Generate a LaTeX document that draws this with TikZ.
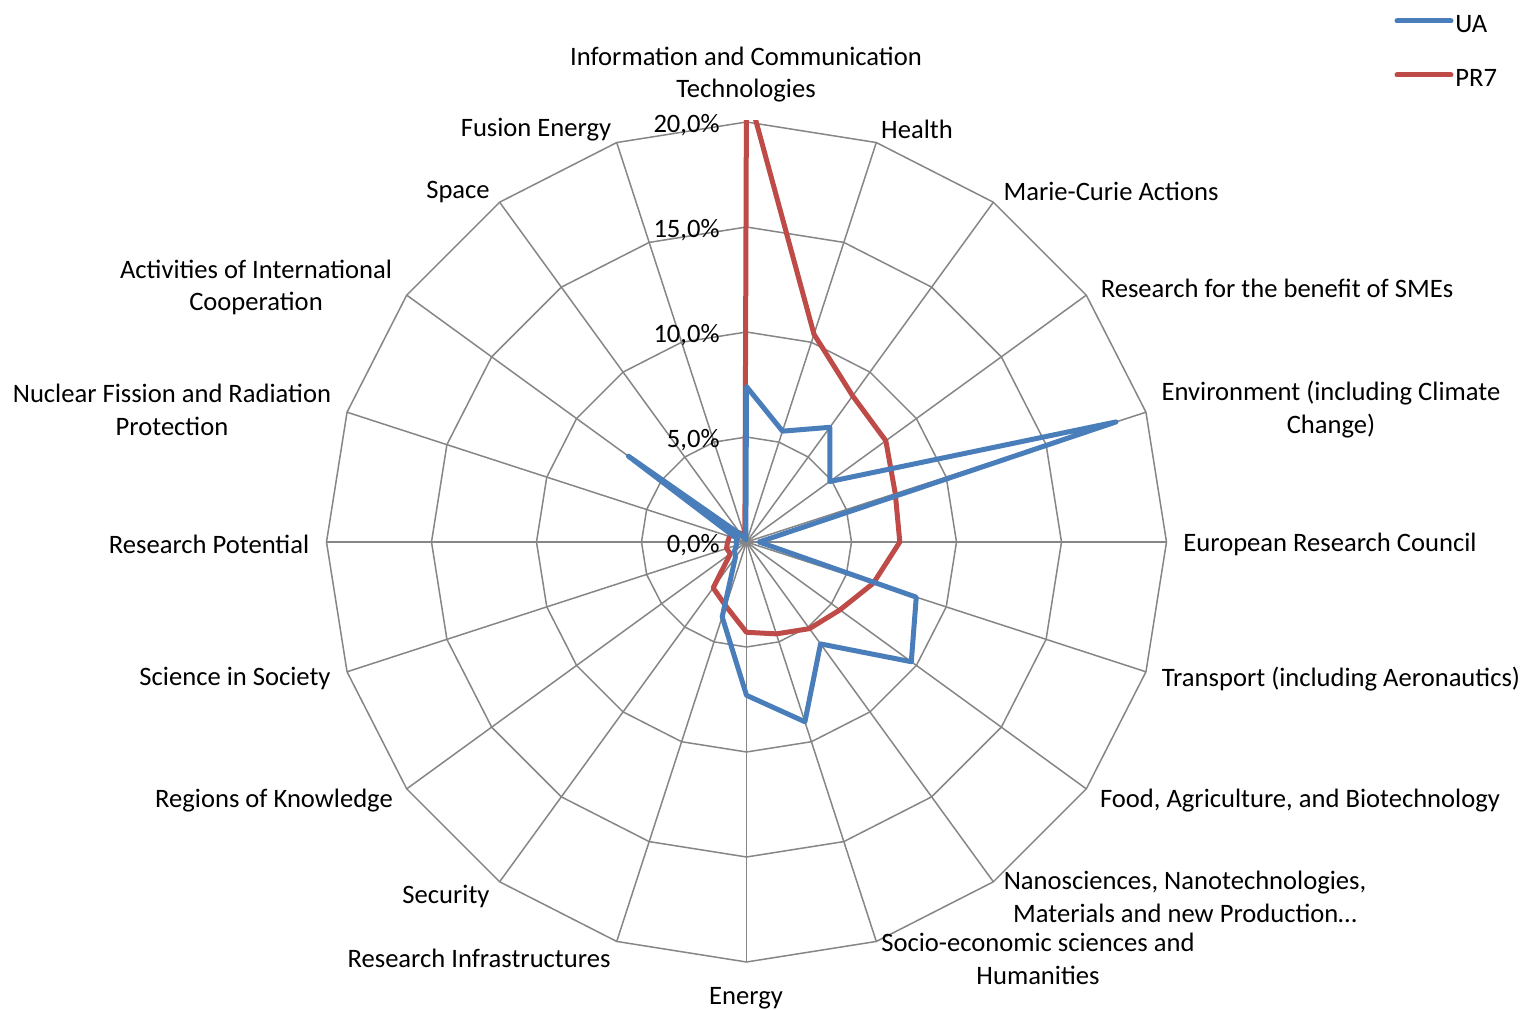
\documentclass[tikz,border=0pt]{standalone}
\usepackage{fontspec}
\setmainfont{Carlito}
\definecolor{gridgray}{HTML}{868686}
\definecolor{uablue}{HTML}{4A7EBB}
\definecolor{prred}{HTML}{BE4B48}
\begin{document}
\begin{tikzpicture}[x=0.5pt,y=-0.5pt,
  lbl/.style={font=\fontsize{13.3}{16.3}\selectfont, inner sep=0pt, align=center, yshift=-1.3pt},
  tick/.style={font=\fontsize{13.3}{16.3}\selectfont, inner sep=0pt, anchor=east, yshift=-1.1pt},
  gridline/.style={draw=gridgray, line width=0.75pt},
  ualine/.style={draw=uablue, line width=2.5pt, line join=round, line cap=round},
  prline/.style={draw=prred, line width=2.5pt, line join=round, line cap=round}]
\path[use as bounding box, fill=white] (0,0) rectangle (1528,1010);
\def\cx{746.5}\def\cy{542}
% grid rings
\foreach \r in {105,210,315,420}{
  \draw[gridline] ({\cx},{\cy-\r}) \foreach \k in {1,...,19}{ -- ({\cx+\r*sin(18*\k)},{\cy-\r*cos(18*\k)}) } -- cycle;
}
% spokes
\foreach \k in {0,...,19}{
  \draw[gridline] (\cx,\cy) -- ({\cx+420*sin(18*\k)},{\cy-420*cos(18*\k)});
}
% tick labels
\node[tick] (t0) at (720,543) {0,0\%};
\node[tick] (t5) at (720,438) {5,0\%};
\node[tick] (t10) at (720,333) {10,0\%};
\node[tick] (t15) at (720,228) {15,0\%};
\node[tick] (t20) at (720,123) {20,0\%};
% data points
\foreach \v [count=\i from 0] in {21.7,10.4,8.6,8.2,7.45,7.3,6.35,5.5,5.1,4.6,4.3,3.2,2.7,0.95,1.0,0.9,0.85,0.7,0.55,0.25}{
  \coordinate (pr\i) at ({\cx+21*\v*sin(18*\i)},{\cy-21*\v*cos(18*\i)});
}
\foreach \v [count=\i from 0] in {7.4,5.55,6.75,4.9,18.5,0.6,8.5,9.7,6.0,9.0,7.3,3.75,0.9,0.7,0.5,0.5,0.45,6.95,0.4,0.1}{
  \coordinate (ua\i) at ({\cx+21*\v*sin(18*\i)},{\cy-21*\v*cos(18*\i)});
}
\begin{scope}
  \clip (0,121) rectangle (1528,1010);
  \draw[prline] (pr0) \foreach \i in {1,...,19}{ -- (pr\i) } -- cycle;
  \draw[ualine] (ua0) \foreach \i in {1,...,19}{ -- (ua\i) } -- cycle;
\end{scope}
% category labels
\node[lbl] (l0) at (746,72) {Information and Communication\\Technologies};
\node[lbl] (l1) at (917,127) {Health};
\node[lbl] (l2) at (1111,189) {Marie-Curie Actions};
\node[lbl] (l3) at (1277,286) {Research for the benefit of SMEs};
\node[lbl] (l4) at (1331,407) {Environment (including Climate\\Change)};
\node[lbl] (l5) at (1330,542) {European Research Council};
\node[lbl] (l6) at (1341,676) {Transport (including Aeronautics)};
\node[lbl] (l7) at (1300,798) {Food, Agriculture, and Biotechnology};
\node[lbl] (l8) at (1185,894) {Nanosciences, Nanotechnologies,\\Materials and new Production…};
\node[lbl] (l9) at (1038,956) {Socio-economic sciences and\\Humanities};
\node[lbl] (l10) at (746,996) {Energy};
\node[lbl] (l11) at (479,956) {Research Infrastructures};
\node[lbl] (l12) at (446,894) {Security};
\node[lbl] (l13) at (274,798) {Regions of Knowledge};
\node[lbl] (l14) at (235,676) {Science in Society};
\node[lbl] (l15) at (209,542) {Research Potential};
\node[lbl] (l16) at (172,407) {Nuclear Fission and Radiation\\Protection};
\node[lbl] (l17) at (256,285) {Activities of International\\Cooperation};
\node[lbl] (l18) at (458,189) {Space};
\node[lbl] (l19) at (536,127) {Fusion Energy};
% legend
\coordinate (lgua1) at (1397,21); \coordinate (lgua2) at (1451,21);
\coordinate (lgpr1) at (1397,75); \coordinate (lgpr2) at (1451,75);
\draw[ualine] (lgua1) -- (lgua2);
\draw[prline] (lgpr1) -- (lgpr2);
\node[lbl, anchor=west] (lua) at (1455,21) {UA};
\node[lbl, anchor=west] (lpr) at (1455,75) {PR7};
\end{tikzpicture}
\end{document}
